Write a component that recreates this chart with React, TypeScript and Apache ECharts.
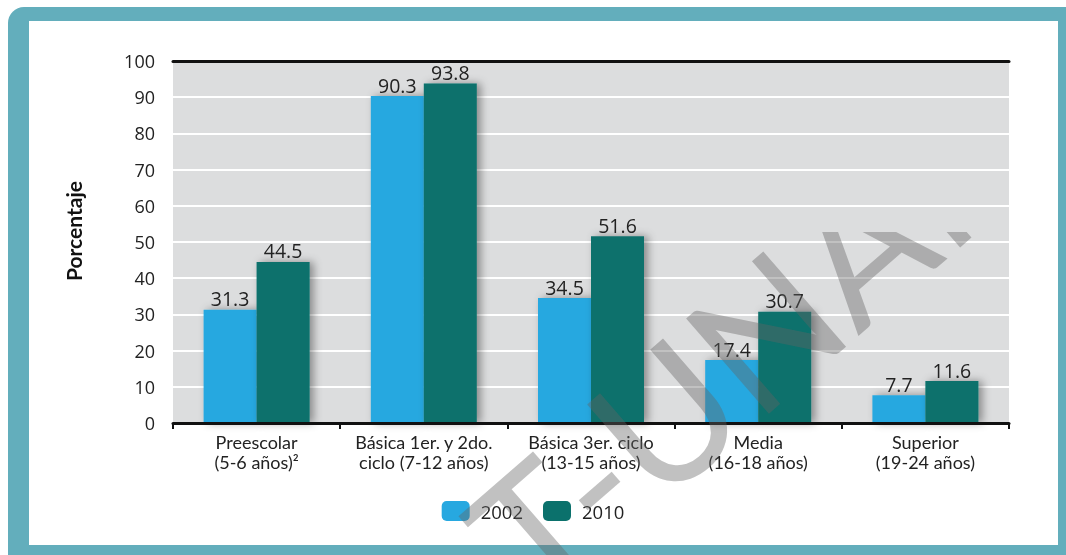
import React, { useEffect, useRef } from "react";
import * as echarts from "echarts";

const categories = [
  "Preescolar\n(5-6 años)²",
  "Básica 1er. y 2do.\nciclo (7-12 años)",
  "Básica 3er. ciclo\n(13-15 años)",
  "Media\n(16-18 años)",
  "Superior\n(19-24 años)",
];
const seriesNames = ["2002", "2010"];
const values2002 = [31.3, 90.3, 34.5, 17.4, 7.7];
const values2010 = [44.5, 93.8, 51.6, 30.7, 11.6];
const yMin = 0;
const yMax = 100;
const yStep = 10;
const yAxisTitle = "Porcentaje";
const watermarkText = "T-UNAM";

const FONT = "'Open Sans', Lato, sans-serif";
const LATO = "Lato, 'Open Sans', sans-serif";
const BLUE = "#27A8E0";
const TEAL = "#0B716C";
const FRAME = "#63AEBC";

export default function App() {
  const ref = useRef<HTMLDivElement>(null);
  const wmRef = useRef<HTMLDivElement>(null);

  useEffect(() => {
    if (!ref.current || !wmRef.current) return;
    const chart = echarts.init(ref.current, undefined, { renderer: "svg" });
    const shadow = {
      shadowBlur: 9,
      shadowColor: "rgba(0,0,0,0.38)",
      shadowOffsetX: 4,
      shadowOffsetY: 0,
    };
    const valueLabel = {
      show: true,
      position: "top",
      distance: 1,
      fontSize: 19.5,
      color: "#222",
      fontFamily: FONT,
    };
    chart.setOption({
      animation: false,
      textStyle: { fontFamily: FONT },
      graphic: [
        {
          type: "rect",
          z: -10,
          silent: true,
          shape: { x: 8, y: 7, width: 1080, height: 570, r: 16 },
          style: { fill: FRAME },
        },
        {
          type: "rect",
          z: -9,
          silent: true,
          shape: { x: 29, y: 21, width: 1029, height: 524 },
          style: { fill: "#ffffff" },
        },
        {
          type: "text",
          x: 73,
          y: 231,
          rotation: Math.PI / 2,
          style: {
            text: yAxisTitle,
            fontFamily: LATO,
            fontSize: 21,
            fontWeight: "bold",
            fill: "#111",
            align: "center",
            verticalAlign: "middle",
          },
        },
      ],
      grid: {
        left: 173,
        right: 57,
        top: 61,
        bottom: 132,
        show: true,
        backgroundColor: "#DCDDDE",
        borderWidth: 0,
      },
      legend: {
        top: 496,
        left: "center",
        itemWidth: 28,
        itemHeight: 20,
        itemGap: 20,
        data: seriesNames,
        textStyle: { fontSize: 18.5, color: "#222", fontFamily: FONT, padding: [0, 0, 0, 6] },
      },
      xAxis: [
        {
          type: "category",
          data: categories,
          axisLine: { lineStyle: { color: "#111", width: 3 } },
          axisTick: { show: true, length: 6, lineStyle: { color: "#111", width: 2 } },
          axisLabel: {
            interval: 0,
            fontSize: 18,
            lineHeight: 20,
            color: "#222",
            margin: 9,
            fontFamily: LATO,
          },
          z: 5,
        },
        {
          type: "category",
          position: "top",
          data: categories,
          axisLine: { lineStyle: { color: "#111", width: 3 } },
          axisTick: { show: false },
          axisLabel: { show: false },
          z: 5,
        },
      ],
      yAxis: {
        type: "value",
        min: yMin,
        max: yMax,
        interval: yStep,
        axisLine: { show: false },
        axisTick: { show: false },
        axisLabel: { fontSize: 18, color: "#222", margin: 18, fontFamily: FONT },
        splitLine: { lineStyle: { color: "#ffffff", width: 2 } },
      },
      series: [
        {
          name: seriesNames[0],
          type: "bar",
          data: values2002,
          barWidth: 53,
          barGap: "0%",
          itemStyle: { color: BLUE, ...shadow },
          label: valueLabel,
        },
        {
          name: seriesNames[1],
          type: "bar",
          data: values2010,
          barWidth: 53,
          barGap: "0%",
          itemStyle: { color: TEAL, ...shadow },
          label: valueLabel,
        },
      ],
    });

    const wm = echarts.init(wmRef.current, undefined, { renderer: "svg" });
    wm.setOption({
      animation: false,
      graphic: [
        {
          type: "text",
          x: 552,
          y: 628,
          rotation: (41 * Math.PI) / 180,
          silent: true,
          style: {
            text: watermarkText,
            fontFamily: LATO,
            fontSize: 176,
            fontWeight: "normal",
            fill: "rgba(100,100,100,0.4)",
            align: "left",
            verticalAlign: "bottom",
          },
        },
      ],
    });

    return () => {
      chart.dispose();
      wm.dispose();
    };
  }, []);

  return (
    <div style={{ position: "fixed", left: 0, top: 0, width: 1066, height: 555 }}>
      <div ref={ref} style={{ position: "absolute", left: 0, top: 0, width: 1066, height: 555 }} />
      <div
        style={{
          position: "absolute",
          left: 0,
          top: 232,
          width: 1066,
          height: 323,
          overflow: "hidden",
          pointerEvents: "none",
        }}
      >
        <div ref={wmRef} style={{ position: "absolute", left: 0, top: -232, width: 1066, height: 555 }} />
      </div>
    </div>
  );
}
